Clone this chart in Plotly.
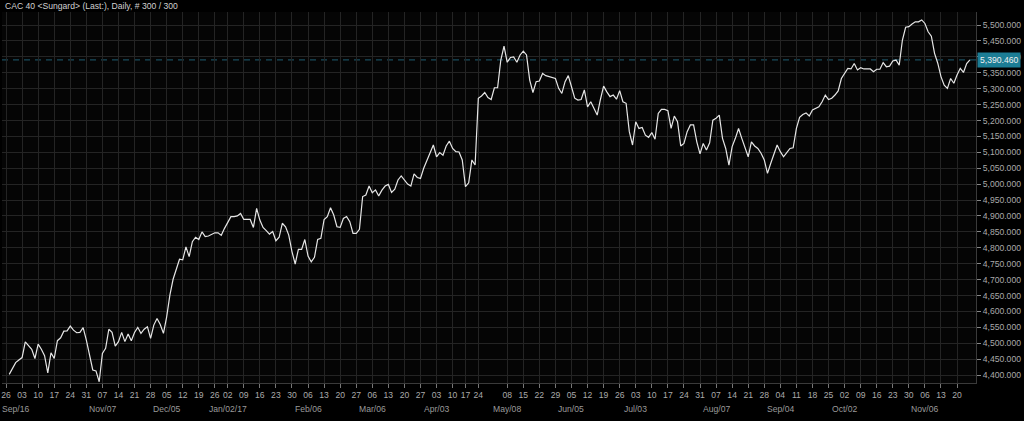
import pandas as pd
import numpy as np
import plotly.graph_objects as go

# ---- data (daily closes, 27 Sep 2016 -> 24 Nov 2017, 300 trading days) ----
close = [
    4402, 4421, 4439, 4447, 4455, 4504, 4492, 4481, 4452, 4497,
    4481, 4461, 4407, 4470, 4452, 4508, 4517, 4538, 4539, 4554,
    4541, 4533, 4534, 4549, 4510, 4463, 4416, 4413, 4379, 4468,
    4484, 4544, 4534, 4491, 4505, 4534, 4505, 4529, 4508, 4534,
    4550, 4531, 4544, 4552, 4515, 4557, 4578, 4559, 4531, 4583,
    4651, 4701, 4735, 4764, 4762, 4803, 4772, 4819, 4833, 4826,
    4850, 4835, 4837, 4843, 4847, 4847, 4839, 4861, 4882, 4898,
    4898, 4900, 4908, 4889, 4889, 4889, 4864, 4924, 4887, 4864,
    4854, 4843, 4851, 4822, 4833, 4877, 4866, 4840, 4788, 4749,
    4795, 4795, 4826, 4774, 4756, 4770, 4826, 4830, 4889, 4898,
    4926, 4903, 4866, 4864, 4892, 4898, 4882, 4845, 4845, 4858,
    4961, 4966, 4994, 4973, 4982, 4963,
    4981, 4994, 4999, 4974, 4984, 5013, 5026, 5011, 5000, 4994,
    5032, 5021, 5018, 5050, 5076, 5099, 5123, 5086, 5099, 5091,
    5120, 5135, 5112, 5102, 5101, 5076, 4992, 5004, 5076, 5060,
    5270, 5277, 5288, 5272, 5266, 5303, 5303, 5390, 5434, 5383,
    5398, 5400, 5383, 5406, 5418, 5406, 5327, 5288, 5322, 5324,
    5348, 5341, 5338, 5335, 5332, 5301,
    5285, 5322, 5341, 5306, 5270, 5264, 5266, 5296, 5243, 5259,
    5238, 5217, 5266, 5308, 5290, 5275, 5280, 5267, 5294, 5259,
    5254, 5165, 5123, 5196, 5175, 5178, 5154, 5147, 5162, 5141,
    5222, 5235, 5235, 5231, 5175, 5214, 5196, 5120, 5128, 5165,
    5186, 5186, 5133, 5095, 5128, 5107, 5130, 5201, 5207, 5217,
    5144, 5112, 5060, 5118, 5144, 5175, 5144, 5112, 5086, 5133,
    5120, 5112, 5097, 5076, 5034, 5065, 5095, 5123,
    5102, 5086, 5099, 5112, 5114, 5175, 5210, 5219, 5224, 5214,
    5233, 5238, 5243, 5259, 5280, 5266, 5270, 5280, 5293, 5332,
    5350, 5364, 5362, 5379, 5359, 5366, 5362, 5362, 5362, 5353,
    5361, 5361, 5382, 5369, 5371, 5387, 5390, 5374, 5453, 5493,
    5495, 5503, 5510, 5510, 5516, 5505, 5479, 5465, 5411, 5380,
    5338, 5311, 5301, 5332, 5317, 5343, 5364, 5351, 5379, 5390.46,
]
last_value = 5390.46

holidays = ["2016-12-26", "2017-04-14", "2017-04-17", "2017-05-01"]
skip_week_labels = ["2017-05-01"]
month_label_dates = ["2016-09-26", "2016-11-07", "2016-12-05", "2017-01-02", "2017-02-06",
                     "2017-03-06", "2017-04-03", "2017-05-08", "2017-06-05", "2017-07-03",
                     "2017-08-07", "2017-09-04", "2017-10-02", "2017-11-06"]
month_label_text = ["Sep/16", "Nov/07", "Dec/05", "Jan/02/17", "Feb/06",
                    "Mar/06", "Apr/03", "May/08", "Jun/05", "Jul/03",
                    "Aug/07", "Sep/04", "Oct/02", "Nov/06"]
title_text = "CAC 40 &lt;Sungard&gt; (Last:), Daily, # 300 / 300"

# ---- trading-day calendar (index axis) ----
cal = pd.bdate_range("2016-09-26", "2017-11-24")
cal = cal[~cal.isin(pd.to_datetime(holidays))]
xidx = np.arange(len(close))

mondays = pd.date_range("2016-09-26", "2017-11-20", freq="W-MON")
mondays = mondays[~mondays.isin(pd.to_datetime(skip_week_labels))]
tick_pos = [int(np.searchsorted(cal.values, m.to_datetime64())) - 1 for m in mondays]
tick_txt = [m.strftime("%d") for m in mondays]

def pos_of(d):
    return int(np.searchsorted(cal.values, pd.Timestamp(d).to_datetime64())) - 1

FONT = "Liberation Sans, Arial, sans-serif"
FS = 8.6
fig = go.Figure()
fig.add_trace(go.Scatter(x=xidx, y=close, mode="lines",
                         line=dict(color="#e6e6e6", width=1.2),
                         hoverinfo="skip", showlegend=False))

fig.add_shape(type="line", xref="paper", x0=0, x1=1, yref="y", y0=last_value, y1=last_value,
              line=dict(color="#1f5f73", width=1, dash="6px,5px"), layer="below")

annotations = [
    dict(xref="paper", yref="paper", x=0, y=1, xanchor="left", yanchor="bottom",
         xshift=1, yshift=-1, text=title_text, showarrow=False,
         font=dict(family=FONT, size=FS, color="#d0d0d0")),
    dict(xref="paper", yref="y", x=1, y=last_value, xanchor="left", yanchor="middle",
         xshift=1, text="5,390.460", showarrow=False, bgcolor="#1c7d95",
         borderpad=2, font=dict(family=FONT, size=FS, color="#f0f0f0")),
]
for i, (d, t) in enumerate(zip(month_label_dates, month_label_text)):
    if i == 0:
        annotations.append(dict(xref="paper", yref="paper", x=0, y=0, xanchor="left",
                                yanchor="middle", xshift=-2, yshift=-26, text=t, showarrow=False,
                                font=dict(family=FONT, size=FS, color="#9a9a9a")))
    else:
        annotations.append(dict(xref="x", yref="paper", x=pos_of(d), y=0, xanchor="center",
                                yanchor="middle", yshift=-26, text=t, showarrow=False,
                                font=dict(family=FONT, size=FS, color="#9a9a9a")))

fig.update_layout(
    width=1024, height=421,
    margin=dict(l=2, r=48, t=12, b=38, autoexpand=False),
    paper_bgcolor="#000000", plot_bgcolor="#050505",
    font=dict(family=FONT, size=FS, color="#aaaaaa"),
    showlegend=False,
    annotations=annotations,
    xaxis=dict(range=[-2.25, len(close) - 1 + 1.9], tickmode="array",
               tickvals=tick_pos, ticktext=tick_txt, tickangle=0, automargin=False,
               showgrid=True, gridcolor="#242424",
               gridwidth=1, zeroline=False, ticks="outside", ticklen=4, tickcolor="#777777",
               tickfont=dict(family=FONT, size=FS, color="#aaaaaa"),
               showline=True, linecolor="#3a3a3a", linewidth=1),
    yaxis=dict(side="right", range=[4375, 5541], dtick=50, tick0=4400, automargin=False,
               tickformat=",.3f", showgrid=True, gridcolor="#242424", gridwidth=1,
               zeroline=False, ticks="outside", ticklen=4, tickcolor="#888888",
               tickfont=dict(family=FONT, size=FS, color="#aaaaaa"),
               showline=True, linecolor="#3a3a3a", linewidth=1),
)

fig.write_html("out.html", config={"displayModeBar": False},
               post_script="document.body.style.margin='0px';"
                           "document.body.style.background='#000';"
                           "document.documentElement.style.overflow='hidden';")
